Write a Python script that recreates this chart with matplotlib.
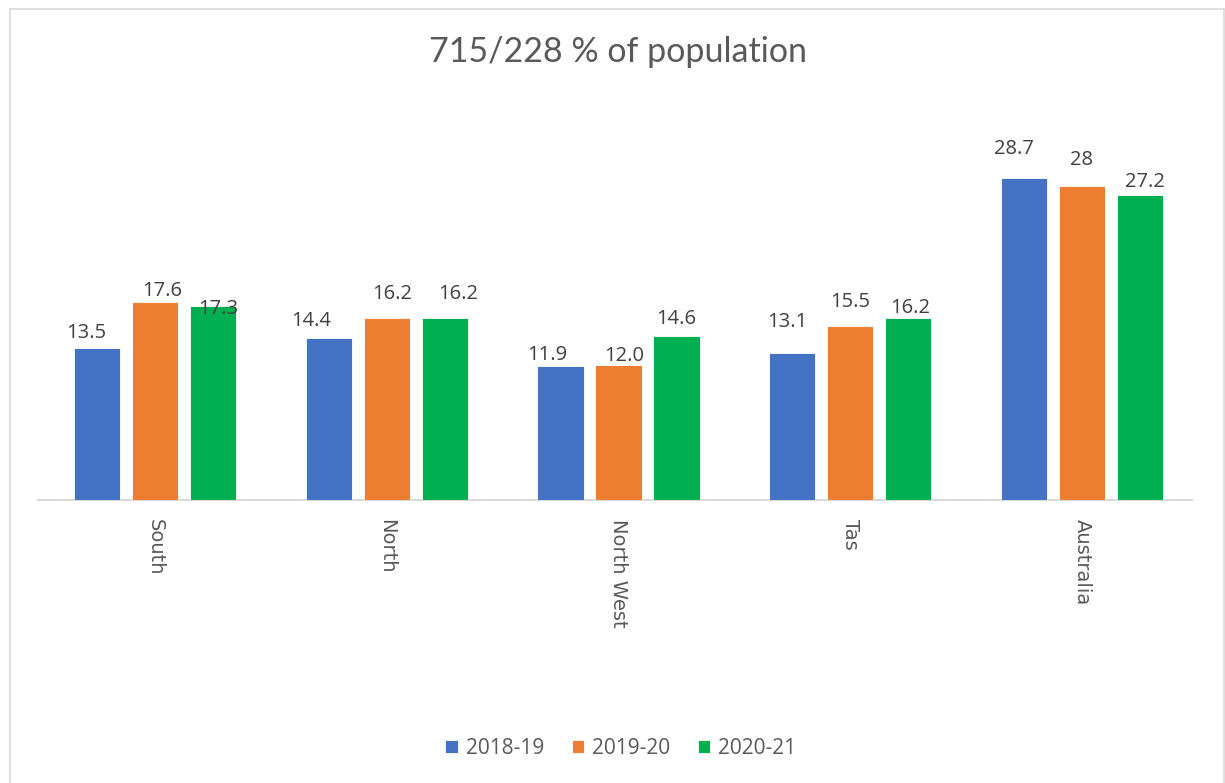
import matplotlib
matplotlib.use("Agg")
import matplotlib.pyplot as plt
from matplotlib.patches import Rectangle
import numpy as np

categories = ["South", "North", "North West", "Tas", "Australia"]
series_names = ["2018-19", "2019-20", "2020-21"]
v_2018_19 = [13.5, 14.4, 11.9, 13.1, 28.7]
v_2019_20 = [17.6, 16.2, 12.0, 15.5, 28.0]
v_2020_21 = [17.3, 16.2, 14.6, 16.2, 27.2]
label_2018_19 = ["13.5", "14.4", "11.9", "13.1", "28.7"]
label_2019_20 = ["17.6", "16.2", "12.0", "15.5", "28"]
label_2020_21 = ["17.3", "16.2", "14.6", "16.2", "27.2"]

# styling: label offsets in pixels (dx, dy) relative to bar top centre
off_2018_19 = [(-11, 10), (-18, 12), (-13, 6), (-5, 26), (-10, 24)]
off_2019_20 = [(7, 6), (5, 19), (6, 4), (0, 19), (0, 21)]
off_2020_21 = [(5, -8), (13, 19), (0, 12), (2, 5), (5, 8)]

colors = ["#4472C4", "#ED7D31", "#00B050"]
gray = "#595959"

W, H = 1225, 783
fig = plt.figure(figsize=(W / 100, H / 100), dpi=100)
fig.patch.set_facecolor("white")

# chart border
fig.add_artist(Rectangle((10 / W, -0.05), (1224 - 10) / W, 1.05 - 9 / H,
                         transform=fig.transFigure, fill=False,
                         edgecolor="#D9D9D9", lw=1.2))

ax = fig.add_axes([38 / W, 1 - 500 / H, (1192 - 38) / W, 393 / H])
x = np.arange(len(categories))
width = 0.2
step = 0.25
values = [v_2018_19, v_2019_20, v_2020_21]
labels = [label_2018_19, label_2019_20, label_2020_21]
offsets = [off_2018_19, off_2019_20, off_2020_21]

for i, (vals, labs, offs) in enumerate(zip(values, labels, offsets)):
    xs = x + (i - 1) * step
    ax.bar(xs, vals, width=width, color=colors[i], label=series_names[i],
           edgecolor="white", linewidth=0.6, zorder=3)
    for xx, v, lab, (dx, dy) in zip(xs, vals, labs, offs):
        ax.annotate(lab, (xx, v), xytext=(dx, dy), textcoords="offset pixels",
                    ha="center", va="baseline", fontsize=14.5, color="#404040",
                    family="Open Sans", zorder=4)

ax.set_xlim(-0.505, 4.475)
ax.set_ylim(0, 35)
ax.set_yticks([])
ax.set_xticks(x)
ax.set_xticklabels(categories, rotation=-90, fontsize=14, color=gray,
                   family="DejaVu Sans", va="top")
ax.tick_params(axis="x", length=0, pad=14)
for s in ["top", "right", "left"]:
    ax.spines[s].set_visible(False)
ax.spines["bottom"].set_color("#D9D9D9")
ax.spines["bottom"].set_linewidth(1.5)
ax.set_facecolor("white")

fig.text(618 / W, 1 - 52 / H, "715/228 % of population", ha="center", va="center",
         fontsize=24.5, color=gray, family="Lato")

leg = fig.legend(loc="center", bbox_to_anchor=(621 / W, 1 - 748 / H), ncol=3,
                 frameon=False, handlelength=0.6, handleheight=0.6,
                 handletextpad=0.4, columnspacing=1.3,
                 prop={"family": "Open Sans", "size": 15})
for t in leg.get_texts():
    t.set_color(gray)

fig.savefig("out.png", dpi=100, facecolor="white")
